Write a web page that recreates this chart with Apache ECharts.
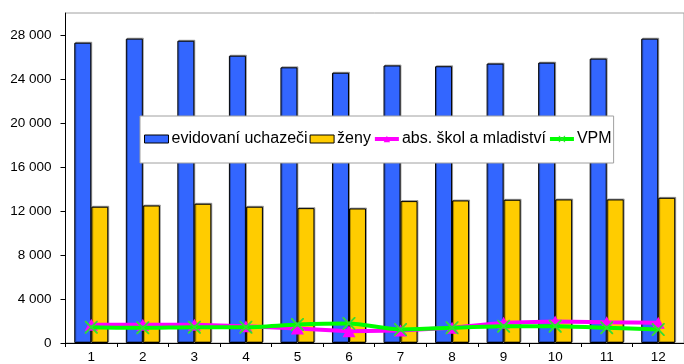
<!DOCTYPE html>
<html><head><meta charset="utf-8">
<script src="https://cdn.jsdelivr.net/npm/echarts@6/dist/echarts.min.js"></script>
<style>html,body{margin:0;padding:0;background:#fff}#c{width:684px;height:364px}</style>
</head><body><div id="c"></div>
<script>
const categories = ['1','2','3','4','5','6','7','8','9','10','11','12'];
const evidovani = [27300, 27670, 27480, 26120, 25060, 24570, 25230, 25160, 25400, 25490, 25850, 27670];
const zeny = [12390, 12500, 12660, 12390, 12260, 12230, 12900, 12960, 13020, 13050, 13050, 13200];
const absSkol = [1650, 1650, 1650, 1530, 1320, 1070, 1130, 1380, 1840, 1950, 1890, 1840];
const vpm = [1440, 1380, 1440, 1440, 1680, 1770, 1230, 1380, 1530, 1530, 1380, 1230];
const yTicks = [0, 4000, 8000, 12000, 16000, 20000, 24000, 28000];
const yMax = 30000;

const FONT = 'Liberation Sans, Arial, sans-serif';
const xPath = 'path://M0,0 L1,0 L5,4 L9,0 L10,0 L10,1 L6,5 L10,9 L10,10 L9,10 L5,6 L1,10 L0,10 L0,9 L4,5 L0,1 Z';
const chart = echarts.init(document.getElementById('c'), null, {renderer: 'canvas'});
const barShadow = {shadowColor: 'rgba(0,0,0,0.3)', shadowOffsetX: 1, shadowOffsetY: -1, shadowBlur: 0};
chart.setOption({
  animation: false,
  backgroundColor: '#fff',
  grid: {left: 65.5, right: -3, top: 13, bottom: 20.5, show: true, borderColor: '#a0a0a0', borderWidth: 1},
  legend: {
    left: 140, top: 116, orient: 'horizontal',
    backgroundColor: '#fff', borderColor: '#a0a0a0', borderWidth: 1,
    padding: [15, 2, 16, 4], itemGap: 2, itemWidth: 24, itemHeight: 8,
    textStyle: {fontFamily: FONT, fontSize: 16, color: '#000', padding: [0, 0, 0, -2]},
    data: [
      {name: 'evidovaní uchazeči', icon: 'rect', itemStyle: {borderColor: '#000', borderWidth: 1}},
      {name: 'ženy', icon: 'rect', itemStyle: {borderColor: '#000', borderWidth: 1}},
      {name: 'abs. škol a mladiství', lineStyle: {width: 4}},
      {name: 'VPM', lineStyle: {width: 4}}
    ]
  },
  xAxis: {
    type: 'category', data: categories,
    axisLine: {lineStyle: {color: '#000', width: 1}},
    axisTick: {show: true, length: 4, lineStyle: {color: '#000'}},
    axisLabel: {fontFamily: FONT, fontSize: 13.5, color: '#000', margin: 7},
    splitLine: {show: false}
  },
  yAxis: {
    type: 'value', min: 0, max: yMax, interval: 4000,
    axisLine: {show: true, lineStyle: {color: '#000', width: 1}},
    axisTick: {show: true, length: 5, lineStyle: {color: '#000'}, customValues: yTicks},
    axisLabel: {fontFamily: FONT, fontSize: 13.5, color: '#000', margin: 14, customValues: yTicks,
      formatter: v => String(v).replace(/\B(?=(\d{3})+(?!\d))/g, ' ')},
    splitLine: {show: false}
  },
  series: [
    {name: 'evidovaní uchazeči', type: 'bar', data: evidovani, barWidth: 17, barGap: '0%',
      itemStyle: Object.assign({color: '#3366FF', borderColor: '#000', borderWidth: 1}, barShadow)},
    {name: 'ženy', type: 'bar', data: zeny, barWidth: 17, barGap: '0%',
      itemStyle: Object.assign({color: '#FFCC00', borderColor: '#000', borderWidth: 1}, barShadow)},
    {name: 'abs. škol a mladiství', type: 'line', data: absSkol, symbol: 'triangle', symbolSize: [13, 12],
      lineStyle: {color: '#FF00FF', width: 4}, itemStyle: {color: '#FF00FF'}, z: 3},
    {name: 'VPM', type: 'line', data: vpm, symbol: xPath, symbolSize: 13, smooth: 0.25,
      lineStyle: {color: '#00FF00', width: 4}, itemStyle: {color: '#33DD33'}, z: 4}
  ]
});
</script></body></html>
